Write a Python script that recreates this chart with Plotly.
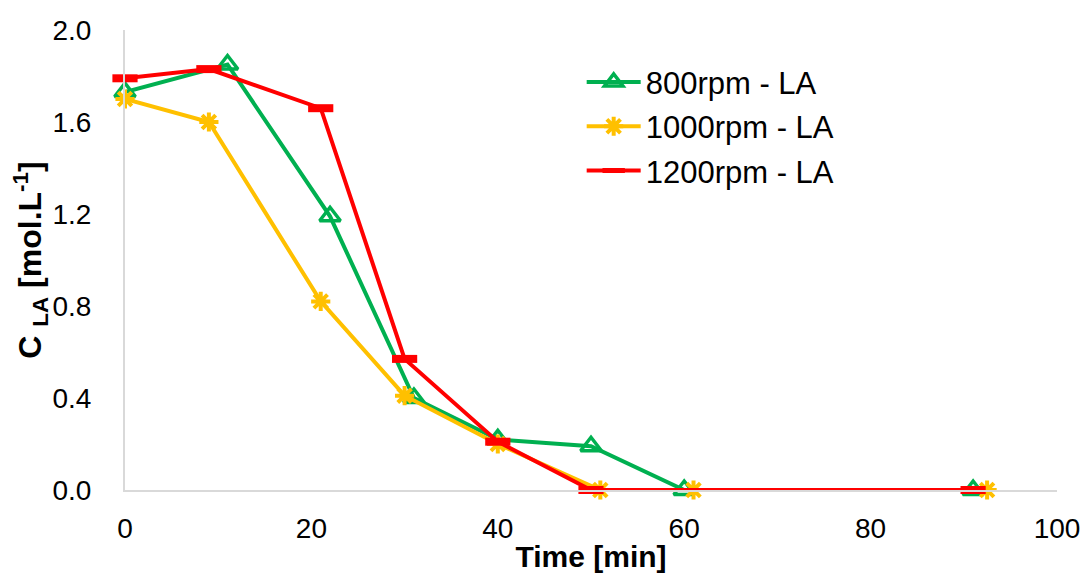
import plotly.graph_objects as go

time_800 = [0, 11, 22, 31, 40, 50, 60, 91]
c_800 = [1.73, 1.85, 1.19, 0.40, 0.22, 0.19, 0.0, 0.0]
time_1000 = [0, 9, 21, 30, 40, 51, 61, 92.5]
c_1000 = [1.70, 1.60, 0.82, 0.41, 0.20, 0.0, 0.0, 0.0]
time_1200 = [0, 9, 21, 30, 40, 50, 91]
c_1200 = [1.79, 1.83, 1.66, 0.57, 0.21, 0.0, 0.0]
names = ["800rpm - LA", "1000rpm - LA", "1200rpm - LA"]

fig = go.Figure()
fig.add_trace(go.Scatter(x=time_800, y=c_800, name=names[0], mode="lines+markers",
                         legendgroup="a",
                         line=dict(color="#00B050", width=4),
                         marker=dict(symbol="triangle-up-open", size=18, color="#00B050",
                                     line=dict(width=3.5, color="#00B050")),
                         cliponaxis=False))
fig.add_trace(go.Scatter(x=time_1000, y=c_1000, name=names[1], mode="lines+markers",
                         legendgroup="b",
                         line=dict(color="#FFC000", width=4),
                         marker=dict(symbol="asterisk-open", size=16, color="#FFC000",
                                     line=dict(width=4, color="#FFC000")),
                         cliponaxis=False))
fig.add_trace(go.Scatter(x=time_1200, y=c_1200, name=names[2], mode="lines+markers",
                         legendgroup="c",
                         line=dict(color="#FF0000", width=4),
                         marker=dict(symbol="line-ew-open", size=18, color="#FF0000",
                                     line=dict(width=8, color="#FF0000")),
                         cliponaxis=False))

fig.update_layout(
    width=1080, height=565,
    margin=dict(l=117, r=31, t=22, b=83),
    plot_bgcolor="white", paper_bgcolor="white",
    font=dict(family="Liberation Sans, Arial, sans-serif", size=28, color="black"),
    showlegend=True,
    legend=dict(x=0.49, y=0.945, xanchor="left", yanchor="top",
                font=dict(size=31), bgcolor="rgba(0,0,0,0)",
                traceorder="grouped", tracegroupgap=1, itemwidth=54),
    xaxis=dict(range=[0, 100], tickvals=[0, 20, 40, 60, 80, 100], showgrid=False,
               zeroline=False, showline=True, linecolor="#D9D9D9", linewidth=2,
               ticks="", ticklabelstandoff=12, automargin=False,
               title=dict(text="<b>Time [min]</b>", font=dict(size=30), standoff=3)),
    yaxis=dict(range=[0, 2.0], tickvals=[0, 0.4, 0.8, 1.2, 1.6, 2.0], tickformat=".1f",
               showgrid=False, zeroline=False, showline=True, linecolor="#D9D9D9", linewidth=2,
               ticks="", ticklabelstandoff=26, automargin=False,
               title=dict(text="<b>C <sub>LA</sub> [mol.L<sup>-1</sup>]</b>", font=dict(size=32),
                          standoff=10)),
)
fig.write_html("out.html")
